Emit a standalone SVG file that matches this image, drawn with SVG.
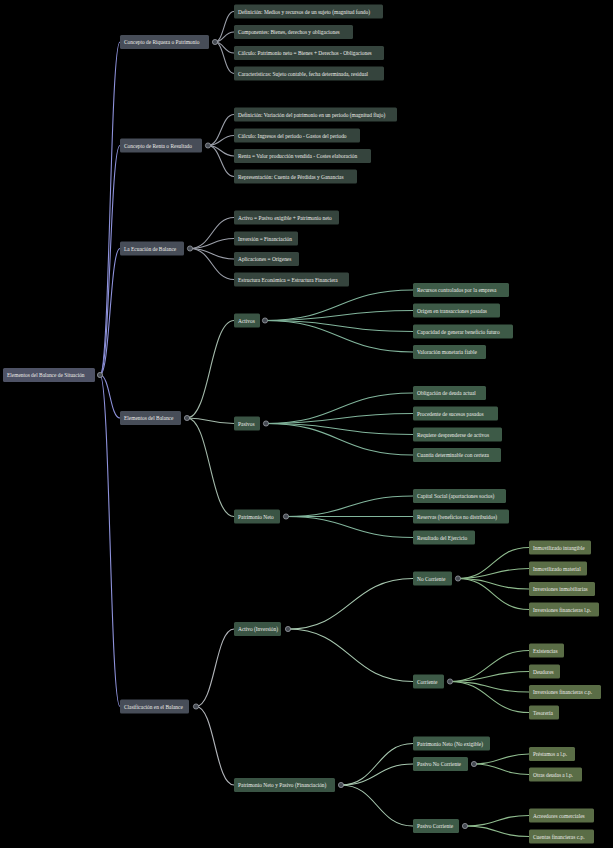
<svg xmlns="http://www.w3.org/2000/svg" width="613" height="848" viewBox="0 0 613 848">
<style>
.bg{fill:#000}
text{font-family:"Liberation Serif","Times New Roman",serif;font-size:5.4px;fill:#ecece8;dominant-baseline:central}
.r{fill:#4e5265}
.l1{fill:#474d58}
.g{fill:#35443d}
.e{fill:#3a5444}
.e3{fill:#3d5a47}
.o{fill:#5a6d46}
.box rect{rx:1.5}
path{fill:none;stroke-width:1.1}
.c0{stroke:#8e92dc}
.c1{stroke:#9b9fa9}
.c2{stroke:#a3b9aa}
.c3{stroke:#82b59c}
.c4{stroke:#b2b5ba}
.c5{stroke:#a6c6ae}
.c6{stroke:#8fbb8e}
.k{fill:#454a52;stroke:#a8abb2;stroke-width:0.7}
</style>
<rect class="bg" x="0" y="0" width="613" height="848"/>
<g id="connectors">
<path class="c0" d="M100,375 C110,375 110,42 120,42"/>
<path class="c0" d="M100,375 C110,375 110,145.5 120,145.5"/>
<path class="c0" d="M100,375 C110,375 110,248.5 120,248.5"/>
<path class="c0" d="M100,375 C110,375 110,418 120,418"/>
<path class="c0" d="M100,375 C110,375 110,706.5 120,706.5"/>
<path class="c1" d="M215,42 C224,42 224,11.5 234,11.5"/>
<path class="c1" d="M215,42 C224,42 224,32 234,32"/>
<path class="c1" d="M215,42 C224,42 224,53 234,53"/>
<path class="c1" d="M215,42 C224,42 224,73.5 234,73.5"/>
<path class="c1" d="M208,145.5 C221,145.5 221,114.5 234,114.5"/>
<path class="c1" d="M208,145.5 C221,145.5 221,135.5 234,135.5"/>
<path class="c1" d="M208,145.5 C221,145.5 221,156 234,156"/>
<path class="c1" d="M208,145.5 C221,145.5 221,176.5 234,176.5"/>
<path class="c1" d="M190,248.5 C212,248.5 212,217.5 234,217.5"/>
<path class="c1" d="M190,248.5 C212,248.5 212,238.5 234,238.5"/>
<path class="c1" d="M190,248.5 C212,248.5 212,259 234,259"/>
<path class="c1" d="M190,248.5 C212,248.5 212,279.5 234,279.5"/>
<path class="c2" d="M187,418 C210,418 210,320.5 234,320.5"/>
<path class="c2" d="M187,418 C210,418 210,423.5 234,423.5"/>
<path class="c2" d="M187,418 C210,418 210,516.5 234,516.5"/>
<path class="c3" d="M265,320.5 C339,320.5 339,290 413,290"/>
<path class="c3" d="M265,320.5 C339,320.5 339,310.5 413,310.5"/>
<path class="c3" d="M265,320.5 C339,320.5 339,331.5 413,331.5"/>
<path class="c3" d="M265,320.5 C339,320.5 339,352 413,352"/>
<path class="c3" d="M266,423.5 C339,423.5 339,393 413,393"/>
<path class="c3" d="M266,423.5 C339,423.5 339,413.5 413,413.5"/>
<path class="c3" d="M266,423.5 C339,423.5 339,434.5 413,434.5"/>
<path class="c3" d="M266,423.5 C339,423.5 339,455 413,455"/>
<path class="c3" d="M286,516.5 C349,516.5 349,496 413,496"/>
<path class="c3" d="M286,516.5 C349,516.5 349,516.5 413,516.5"/>
<path class="c3" d="M286,516.5 C349,516.5 349,537.5 413,537.5"/>
<path class="c4" d="M196,706.5 C215,706.5 215,629 234,629"/>
<path class="c4" d="M196,706.5 C215,706.5 215,785 234,785"/>
<path class="c5" d="M288,629 C350,629 350,578.5 413,578.5"/>
<path class="c5" d="M288,629 C350,629 350,681.5 413,681.5"/>
<path class="c6" d="M458,578.5 C493,578.5 493,547.5 529,547.5"/>
<path class="c6" d="M458,578.5 C493,578.5 493,568.5 529,568.5"/>
<path class="c6" d="M458,578.5 C493,578.5 493,589 529,589"/>
<path class="c6" d="M458,578.5 C493,578.5 493,609.5 529,609.5"/>
<path class="c6" d="M450,681.5 C489,681.5 489,650.5 529,650.5"/>
<path class="c6" d="M450,681.5 C489,681.5 489,671.5 529,671.5"/>
<path class="c6" d="M450,681.5 C489,681.5 489,692 529,692"/>
<path class="c6" d="M450,681.5 C489,681.5 489,712.5 529,712.5"/>
<path class="c5" d="M341,785 C377,785 377,743.5 413,743.5"/>
<path class="c5" d="M341,785 C377,785 377,764 413,764"/>
<path class="c5" d="M341,785 C377,785 377,826 413,826"/>
<path class="c6" d="M474,764 C501,764 501,754 529,754"/>
<path class="c6" d="M474,764 C501,764 501,774.5 529,774.5"/>
<path class="c6" d="M465,826 C497,826 497,815.5 529,815.5"/>
<path class="c6" d="M465,826 C497,826 497,836.5 529,836.5"/>
</g>
<g id="toggles">
<circle class="k" cx="100" cy="375" r="2.6"/>
<circle class="k" cx="215" cy="42" r="2.6"/>
<circle class="k" cx="208" cy="145.5" r="2.6"/>
<circle class="k" cx="190" cy="248.5" r="2.6"/>
<circle class="k" cx="187" cy="418" r="2.6"/>
<circle class="k" cx="196" cy="706.5" r="2.6"/>
<circle class="k" cx="265" cy="320.5" r="2.6"/>
<circle class="k" cx="266" cy="423.5" r="2.6"/>
<circle class="k" cx="286" cy="516.5" r="2.6"/>
<circle class="k" cx="288" cy="629" r="2.6"/>
<circle class="k" cx="341" cy="785" r="2.6"/>
<circle class="k" cx="458" cy="578.5" r="2.6"/>
<circle class="k" cx="450" cy="681.5" r="2.6"/>
<circle class="k" cx="474" cy="764" r="2.6"/>
<circle class="k" cx="465" cy="826" r="2.6"/>
</g>
<g id="root" class="box"><rect class="r" x="3" y="368" width="92" height="14"/><text x="7" y="375">Elementos del Balance de Situación</text></g>
<g id="riqueza" class="box"><rect class="l1" x="120" y="35" width="89" height="14"/><text x="124" y="42">Concepto de Riqueza o Patrimonio</text></g>
<g id="renta" class="box"><rect class="l1" x="120" y="138.5" width="82" height="14"/><text x="124" y="145.5">Concepto de Renta o Resultado</text></g>
<g id="ecuacion" class="box"><rect class="l1" x="120" y="241.5" width="64" height="14"/><text x="124" y="248.5">La Ecuación de Balance</text></g>
<g id="elementos" class="box"><rect class="l1" x="120" y="411" width="61" height="14"/><text x="124" y="418">Elementos del Balance</text></g>
<g id="clasificacion" class="box"><rect class="l1" x="120" y="699.5" width="69" height="14"/><text x="124" y="706.5">Clasificación en el Balance</text></g>
<g id="riq1" class="box"><rect class="g" x="234" y="4.5" width="149" height="14"/><text x="238" y="11.5">Definición: Medios y recursos de un sujeto (magnitud fondo)</text></g>
<g id="riq2" class="box"><rect class="g" x="234" y="25" width="119" height="14"/><text x="238" y="32">Componentes: Bienes, derechos y obligaciones</text></g>
<g id="riq3" class="box"><rect class="g" x="234" y="46" width="150" height="14"/><text x="238" y="53">Cálculo: Patrimonio neto = Bienes + Derechos - Obligaciones</text></g>
<g id="riq4" class="box"><rect class="g" x="234" y="66.5" width="150" height="14"/><text x="238" y="73.5">Características: Sujeto contable, fecha determinada, residual</text></g>
<g id="ren1" class="box"><rect class="g" x="234" y="107.5" width="163" height="14"/><text x="238" y="114.5">Definición: Variación del patrimonio en un periodo (magnitud flujo)</text></g>
<g id="ren2" class="box"><rect class="g" x="234" y="128.5" width="126" height="14"/><text x="238" y="135.5">Cálculo: Ingresos del periodo - Gastos del periodo</text></g>
<g id="ren3" class="box"><rect class="g" x="234" y="149" width="137" height="14"/><text x="238" y="156">Renta = Valor producción vendida - Costes elaboración</text></g>
<g id="ren4" class="box"><rect class="g" x="234" y="169.5" width="123" height="14"/><text x="238" y="176.5">Representación: Cuenta de Pérdidas y Ganancias</text></g>
<g id="ecu1" class="box"><rect class="g" x="234" y="210.5" width="105" height="14"/><text x="238" y="217.5">Activo = Pasivo exigible + Patrimonio neto</text></g>
<g id="ecu2" class="box"><rect class="g" x="234" y="231.5" width="64" height="14"/><text x="238" y="238.5">Inversión = Financiación</text></g>
<g id="ecu3" class="box"><rect class="g" x="234" y="252" width="65" height="14"/><text x="238" y="259">Aplicaciones = Orígenes</text></g>
<g id="ecu4" class="box"><rect class="g" x="234" y="272.5" width="115" height="14"/><text x="238" y="279.5">Estructura Económica = Estructura Financiera</text></g>
<g id="activos" class="box"><rect class="e" x="234" y="313.5" width="26" height="14"/><text x="238" y="320.5">Activos</text></g>
<g id="pasivos" class="box"><rect class="e" x="234" y="416.5" width="26" height="14"/><text x="238" y="423.5">Pasivos</text></g>
<g id="pn" class="box"><rect class="e" x="234" y="509.5" width="46" height="14"/><text x="238" y="516.5">Patrimonio Neto</text></g>
<g id="act1" class="box"><rect class="e3" x="413" y="283" width="96" height="14"/><text x="417" y="290">Recursos controlados por la empresa</text></g>
<g id="act2" class="box"><rect class="e3" x="413" y="303.5" width="87" height="14"/><text x="417" y="310.5">Origen en transacciones pasadas</text></g>
<g id="act3" class="box"><rect class="e3" x="413" y="324.5" width="100" height="14"/><text x="417" y="331.5">Capacidad de generar beneficio futuro</text></g>
<g id="act4" class="box"><rect class="e3" x="413" y="345" width="73" height="14"/><text x="417" y="352">Valoración monetaria fiable</text></g>
<g id="pas1" class="box"><rect class="e3" x="413" y="386" width="73" height="14"/><text x="417" y="393">Obligación de deuda actual</text></g>
<g id="pas2" class="box"><rect class="e3" x="413" y="406.5" width="85" height="14"/><text x="417" y="413.5">Procedente de sucesos pasados</text></g>
<g id="pas3" class="box"><rect class="e3" x="413" y="427.5" width="89" height="14"/><text x="417" y="434.5">Requiere desprenderse de activos</text></g>
<g id="pas4" class="box"><rect class="e3" x="413" y="448" width="88" height="14"/><text x="417" y="455">Cuantía determinable con certeza</text></g>
<g id="pn1" class="box"><rect class="e3" x="413" y="489" width="93" height="14"/><text x="417" y="496">Capital Social (aportaciones socios)</text></g>
<g id="pn2" class="box"><rect class="e3" x="413" y="509.5" width="96" height="14"/><text x="417" y="516.5">Reservas (beneficios no distribuidos)</text></g>
<g id="pn3" class="box"><rect class="e3" x="413" y="530.5" width="62" height="14"/><text x="417" y="537.5">Resultado del Ejercicio</text></g>
<g id="activoinv" class="box"><rect class="e" x="234" y="622" width="47" height="14"/><text x="238" y="629">Activo (Inversión)</text></g>
<g id="pnpasivo" class="box"><rect class="e" x="234" y="778" width="101" height="14"/><text x="238" y="785">Patrimonio Neto y Pasivo (Financiación)</text></g>
<g id="nocorriente" class="box"><rect class="e3" x="413" y="571.5" width="39" height="14"/><text x="417" y="578.5">No Corriente</text></g>
<g id="corriente" class="box"><rect class="e3" x="413" y="674.5" width="31" height="14"/><text x="417" y="681.5">Corriente</text></g>
<g id="nc1" class="box"><rect class="o" x="529" y="540.5" width="62" height="14"/><text x="533" y="547.5">Inmovilizado intangible</text></g>
<g id="nc2" class="box"><rect class="o" x="529" y="561.5" width="58" height="14"/><text x="533" y="568.5">Inmovilizado material</text></g>
<g id="nc3" class="box"><rect class="o" x="529" y="582" width="66" height="14"/><text x="533" y="589">Inversiones inmobiliarias</text></g>
<g id="nc4" class="box"><rect class="o" x="529" y="602.5" width="70" height="14"/><text x="533" y="609.5">Inversiones financieras l.p.</text></g>
<g id="c1" class="box"><rect class="o" x="529" y="643.5" width="35" height="14"/><text x="533" y="650.5">Existencias</text></g>
<g id="c2" class="box"><rect class="o" x="529" y="664.5" width="31" height="14"/><text x="533" y="671.5">Deudores</text></g>
<g id="c3" class="box"><rect class="o" x="529" y="685" width="72" height="14"/><text x="533" y="692">Inversiones financieras c.p.</text></g>
<g id="c4" class="box"><rect class="o" x="529" y="705.5" width="30" height="14"/><text x="533" y="712.5">Tesorería</text></g>
<g id="pnnoexig" class="box"><rect class="e3" x="413" y="736.5" width="77" height="14"/><text x="417" y="743.5">Patrimonio Neto (No exigible)</text></g>
<g id="pasivonc" class="box"><rect class="e3" x="413" y="757" width="55" height="14"/><text x="417" y="764">Pasivo No Corriente</text></g>
<g id="pasivoc" class="box"><rect class="e3" x="413" y="819" width="46" height="14"/><text x="417" y="826">Pasivo Corriente</text></g>
<g id="pnc1" class="box"><rect class="o" x="529" y="747" width="46" height="14"/><text x="533" y="754">Préstamos a l.p.</text></g>
<g id="pnc2" class="box"><rect class="o" x="529" y="767.5" width="53" height="14"/><text x="533" y="774.5">Otras deudas a l.p.</text></g>
<g id="pc1" class="box"><rect class="o" x="529" y="808.5" width="65" height="14"/><text x="533" y="815.5">Acreedores comerciales</text></g>
<g id="pc2" class="box"><rect class="o" x="529" y="829.5" width="65" height="14"/><text x="533" y="836.5">Cuentas financieras c.p.</text></g>
</svg>
